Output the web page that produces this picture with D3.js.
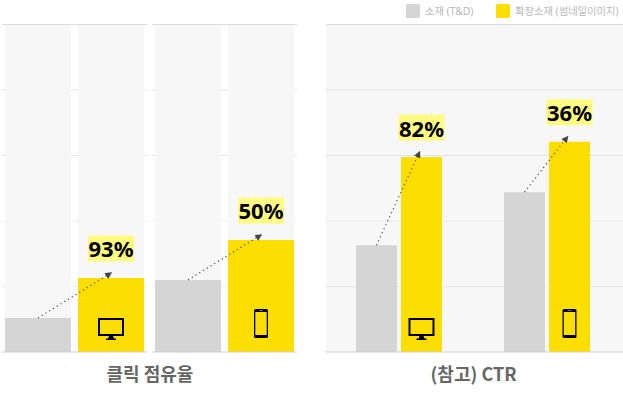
<!DOCTYPE html>
<html>
<head>
<meta charset="utf-8">
<script src="https://cdn.jsdelivr.net/npm/d3@7/dist/d3.min.js"></script>
<style>
  html, body { margin: 0; padding: 0; background: #fff; }
  svg { display: block; }
  text { font-family: "Noto Sans", "Noto Sans CJK KR", sans-serif; }
  text.title { font-family: "Noto Sans CJK KR", sans-serif; }
</style>
</head>
<body>
<div id="chart"></div>
<script>
const devices = ["pc", "mobile"];
const seriesNames = ["소재 (T&D)", "확장소재 (썸네일이미지)"];
const seriesColors = ["#d5d5d5", "#fcdf00"];

// values, 0-100 of the axis height
const shareBase = [10.4, 22];
const shareExt = [22.6, 34.2];
const shareLabels = ["93%", "50%"];
const ctrBase = [32.6, 48.8];
const ctrExt = [59.5, 64.2];
const ctrLabels = ["82%", "36%"];

const yTicks = [0, 20, 40, 60, 80, 100];

const width = 623, height = 393;

const svg = d3.select("#chart").append("svg")
  .attr("width", width)
  .attr("height", height);

const y = d3.scaleLinear().domain([0, 100]).range([352, 24.5]);

const defs = svg.append("defs");
defs.append("marker")
  .attr("id", "tip")
  .attr("viewBox", "0 0 10 10")
  .attr("refX", 8).attr("refY", 5)
  .attr("markerWidth", 7).attr("markerHeight", 7)
  .attr("markerUnits", "userSpaceOnUse")
  .attr("orient", "auto")
  .append("path")
  .attr("d", "M0,0L10,5L0,10Z")
  .attr("fill", "#444");

function monitor(g, cx, cy) {
  const m = g.append("g").attr("transform", `translate(${cx},${cy + 1})`);
  m.append("rect").attr("x", -12).attr("y", -9).attr("width", 24).attr("height", 16)
    .attr("fill", "none").attr("stroke", "#000").attr("stroke-width", 2);
  m.append("path").attr("d", "M-2,8H2L3,10.5H5V12H-5V10.5H-3Z").attr("fill", "#000");
}

function phone(g, cx, cy) {
  const p = g.append("g").attr("transform", `translate(${cx},${cy - 3.5})`);
  p.append("rect").attr("x", -7).attr("y", -14.5).attr("width", 14).attr("height", 29).attr("rx", 1.5)
    .attr("fill", "#000");
  p.append("rect").attr("x", -5.7).attr("y", -11.5).attr("width", 11.4).attr("height", 23)
    .attr("fill", "#fcdf00");
  p.append("rect").attr("x", -2).attr("y", -13.4).attr("width", 4).attr("height", 0.9)
    .attr("fill", "#777");
}

const icons = { pc: monitor, mobile: phone };

function gridColor(d) {
  if (d === 100) return "#dcdcdc";
  return d >= 60 ? "#e3e3e3" : "#ececec";
}

function drawPanel(opts) {
  const g = svg.append("g");
  const x0 = d3.scaleBand().domain(devices).range(opts.groupRange);
  const x1 = d3.scaleBand().domain([0, 1]).range(opts.innerRange).paddingInner(opts.innerPad);

  // grid
  opts.gridSpans.forEach(s => {
    g.selectAll(null).data(yTicks.slice(1)).enter().append("line")
      .attr("x1", s[0]).attr("x2", s[1])
      .attr("y1", d => y(d)).attr("y2", d => y(d))
      .attr("stroke", gridColor)
      .attr("stroke-width", 1);
  });

  devices.forEach((dev, i) => {
    const gr = g.append("g").attr("transform", `translate(${x0(dev)},0)`);
    const vals = [opts.base[i], opts.ext[i]];

    if (opts.columnBg) {
      gr.selectAll("rect.bg").data(vals).enter().append("rect")
        .attr("class", "bg")
        .attr("x", (d, j) => x1(j))
        .attr("width", x1.bandwidth())
        .attr("y", y(100) + 0.5)
        .attr("height", y(0) - y(100) - 0.5)
        .attr("fill", "#f7f7f7");
    }

    gr.selectAll("rect.bar").data(vals).enter().append("rect")
      .attr("class", "bar")
      .attr("x", (d, j) => x1(j))
      .attr("width", x1.bandwidth())
      .attr("y", d => y(d))
      .attr("height", d => y(0) - y(d))
      .attr("fill", (d, j) => seriesColors[j]);

    const ax = x1(0) + x1.bandwidth() / 2;
    const bx = x1(1) + x1.bandwidth() / 2;

    icons[dev](gr, bx, 327);

    gr.append("line")
      .attr("x1", ax).attr("y1", y(vals[0]))
      .attr("x2", bx - opts.tipInset).attr("y2", y(vals[1]) - 5)
      .attr("stroke", "#444")
      .attr("stroke-width", 1.2)
      .attr("stroke-dasharray", "1.2 3.2")
      .attr("marker-end", "url(#tip)");

    const labelY = y(vals[1]) - 29.5;
    gr.append("rect")
      .attr("x", bx - 23).attr("width", 46)
      .attr("y", labelY - 13).attr("height", 26)
      .attr("fill", "#fffb80");
    gr.append("text")
      .attr("x", bx).attr("y", labelY)
      .attr("text-anchor", "middle")
      .attr("dominant-baseline", "central")
      .attr("font-size", 22)
      .attr("font-weight", 700)
      .attr("fill", "#000")
      .text(opts.labels[i]);
  });

  // baseline
  opts.gridSpans.forEach(s => {
    g.append("line").attr("x1", s[0]).attr("x2", s[1])
      .attr("y1", y(0)).attr("y2", y(0))
      .attr("stroke", "#cfcfcf").attr("stroke-width", 1);
  });

  g.append("text")
    .attr("class", "title")
    .attr("x", opts.titleX).attr("y", 373)
    .attr("text-anchor", "middle")
    .attr("dominant-baseline", "central")
    .attr("font-size", 18)
    .attr("font-weight", 700)
    .attr("fill", "#666")
    .text(opts.title);
}

// right panel backdrop goes first so its grid sits on top
svg.append("rect")
  .attr("x", 326).attr("width", width - 326)
  .attr("y", y(100)).attr("height", y(0) - y(100))
  .attr("fill", "#f7f7f7");

drawPanel({
  base: shareBase, ext: shareExt, labels: shareLabels,
  groupRange: [0, 300], innerRange: [5, 144], innerPad: 7 / 73,
  gridSpans: [[2, 147], [152, 297]], columnBg: true, tipInset: 0,
  title: "클릭 점유율", titleX: 150
});

drawPanel({
  base: ctrBase, ext: ctrExt, labels: ctrLabels,
  groupRange: [325, 621], innerRange: [31, 117], innerPad: 4 / 45,
  gridSpans: [[326, 623]], columnBg: false, tipInset: 2,
  title: "(참고) CTR", titleX: 473.5
});

// legend
const legendX = [406, 496];
const legend = svg.append("g");
legend.selectAll("rect").data(seriesNames).enter().append("rect")
  .attr("x", (d, i) => legendX[i]).attr("y", 4)
  .attr("width", 14).attr("height", 14).attr("rx", 1.5)
  .attr("fill", (d, i) => seriesColors[i]);
legend.selectAll("text").data(seriesNames).enter().append("text")
  .attr("x", (d, i) => legendX[i] + 19).attr("y", 11)
  .attr("dominant-baseline", "central")
  .attr("font-size", 10.3)
  .attr("fill", "#b8b8b8")
  .text(d => d);
</script>
</body>
</html>
